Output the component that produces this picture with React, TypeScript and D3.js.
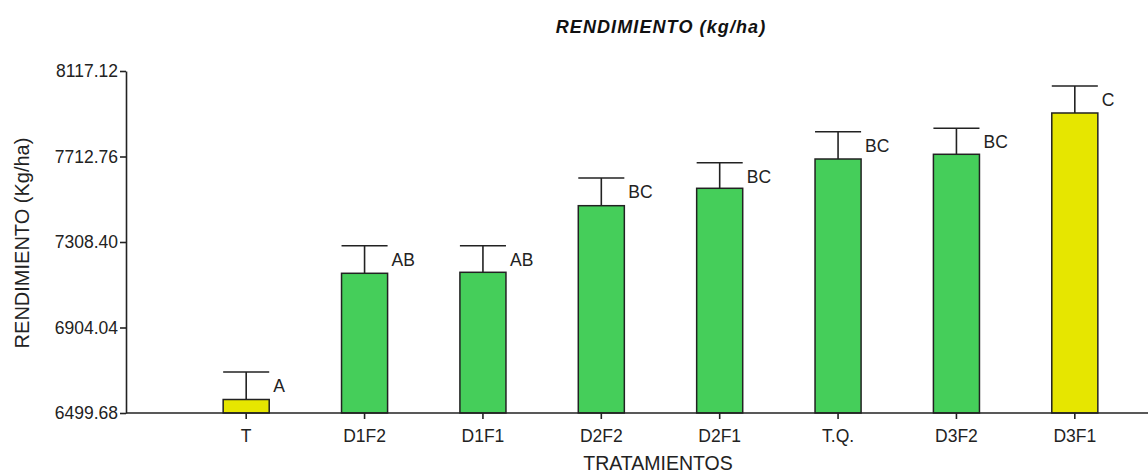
import React, { useRef, useEffect } from 'react';
import { select, scaleBand, scaleLinear, axisLeft, axisBottom } from 'd3';

// datos
const tratamientos = ['T', 'D1F2', 'D1F1', 'D2F2', 'D2F1', 'T.Q.', 'D3F2', 'D3F1'];
const rendimiento = [6563.5, 7160.4, 7165.1, 7480.1, 7562.4, 7700.9, 7723.2, 7918.5];
const errorEst = [130.1, 130.5, 125.8, 131.0, 121.0, 129.1, 122.9, 127.7];
const letras = ['A', 'AB', 'AB', 'BC', 'BC', 'BC', 'BC', 'C'];
const tipoBarra = ['testigo', 'trat', 'trat', 'trat', 'trat', 'trat', 'trat', 'testigo'];
const yTicks = [6499.68, 6904.04, 7308.40, 7712.76, 8117.12];

const W = 1148;
const H = 474;
const colores: Record<string, string> = { testigo: '#e6e600', trat: '#45ce5a' };

const App = () => {
    const svgRef = useRef<SVGSVGElement>(null);

    useEffect(() => {
        document.body.style.margin = '0';
        const svg = select(svgRef.current);
        svg.selectAll('*').remove();

        const xScale = scaleBand<string>()
            .domain(tratamientos)
            .range([187, 1134])
            .paddingInner(0.611)
            .paddingOuter(0.3055);

        const yScale = scaleLinear()
            .domain([yTicks[0], yTicks[yTicks.length - 1]])
            .range([413, 71]);

        const font = 'Liberation Sans, Arial, sans-serif';

        // titulo
        svg.append('text')
            .attr('x', 661).attr('y', 33)
            .attr('text-anchor', 'middle')
            .style('font', `italic bold 18px ${font}`)
            .style('letter-spacing', '1.1px')
            .attr('fill', '#111')
            .text('RENDIMIENTO (kg/ha)');

        // barras
        const bw = xScale.bandwidth();
        const g = svg.append('g');
        tratamientos.forEach((t, i) => {
            const x0 = xScale(t)!;
            const cx = x0 + bw / 2;
            const yTop = yScale(rendimiento[i]);
            const yErr = yScale(rendimiento[i] + errorEst[i]);
            // barra de error
            g.append('line')
                .attr('x1', cx).attr('x2', cx)
                .attr('y1', yTop).attr('y2', yErr)
                .attr('stroke', '#222').attr('stroke-width', 1.6);
            g.append('line')
                .attr('x1', x0).attr('x2', x0 + bw)
                .attr('y1', yErr).attr('y2', yErr)
                .attr('stroke', '#222').attr('stroke-width', 1.6);
            g.append('rect')
                .attr('x', x0).attr('y', yTop)
                .attr('width', bw).attr('height', yScale(yTicks[0]) - yTop)
                .attr('fill', colores[tipoBarra[i]])
                .attr('stroke', '#222').attr('stroke-width', 1.5);
            g.append('text')
                .attr('x', x0 + bw + 4).attr('y', yErr + 20)
                .style('font', `17.5px ${font}`)
                .attr('fill', '#222')
                .text(letras[i]);
        });

        // eje Y
        const yAxis = axisLeft(yScale)
            .tickValues(yTicks)
            .tickFormat((d) => (+d).toFixed(2))
            .tickSize(6)
            .tickSizeOuter(0);
        const gy = svg.append('g')
            .attr('transform', 'translate(126,0)')
            .call(yAxis);
        gy.select('.domain').attr('stroke', '#222').attr('stroke-width', 1.6);
        gy.selectAll('.tick line').attr('stroke', '#222').attr('stroke-width', 1.6);
        gy.selectAll('.tick text')
            .attr('x', -8)
            .style('font', `17.5px ${font}`)
            .attr('fill', '#222');

        // eje X
        const xAxis = axisBottom(xScale).tickSize(6).tickSizeOuter(0);
        const gx = svg.append('g')
            .attr('transform', 'translate(0,413)')
            .call(xAxis);
        gx.select('.domain')
            .attr('d', `M126,0H${W}`)
            .attr('stroke', '#222').attr('stroke-width', 1.6);
        gx.selectAll('.tick line').attr('stroke', '#222').attr('stroke-width', 1.6);
        gx.selectAll('.tick text')
            .attr('y', 17)
            .style('font', `17.5px ${font}`)
            .attr('fill', '#222');

        // titulos de ejes
        svg.append('text')
            .attr('x', 658).attr('y', 470)
            .attr('text-anchor', 'middle')
            .style('font', `19.5px ${font}`)
            .attr('fill', '#222')
            .text('TRATAMIENTOS');
        svg.append('text')
            .attr('transform', 'translate(29,243) rotate(-90)')
            .attr('text-anchor', 'middle')
            .style('font', `20px ${font}`)
            .attr('fill', '#222')
            .text('RENDIMIENTO (Kg/ha)');
    }, []);

    return (
        <svg ref={svgRef} width={W} height={H}
            style={{ display: 'block', background: '#fff' }} />
    );
};

export default App;
